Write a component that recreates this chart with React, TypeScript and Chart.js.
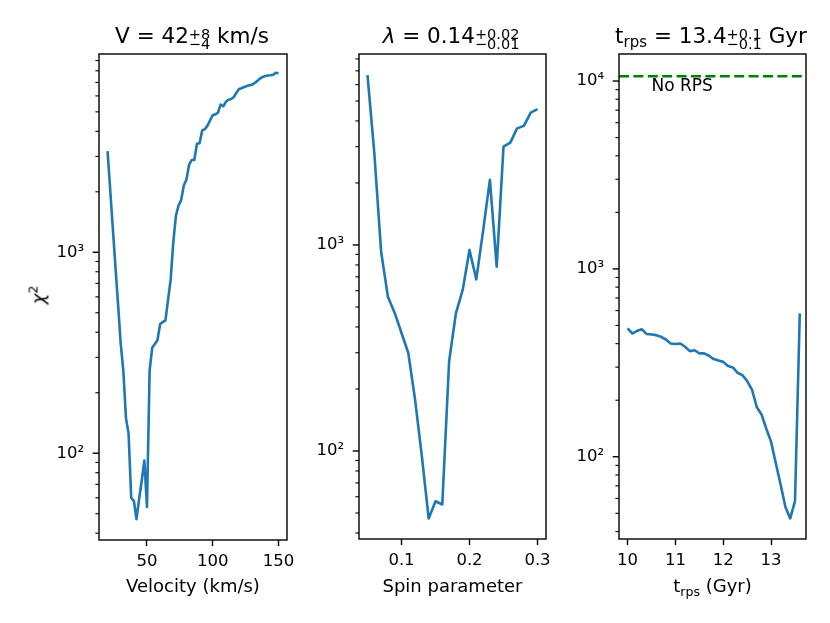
import { useEffect, useRef } from 'react';
import { Chart, registerables } from 'chart.js';

Chart.register(...registerables);

// chi^2 against each fitted parameter
const velocity = [
  20, 22, 24, 26, 28, 30, 32, 34, 36, 38, 40, 42, 44, 46, 48, 50, 52, 54, 56, 58, 60, 62,
  64, 66, 68, 70, 72, 74, 76, 78, 80, 82, 84, 86, 88, 90, 92, 94, 96, 98, 100, 102, 104,
  106, 108, 110, 112, 114, 116, 118, 120, 122, 124, 126, 128, 130, 132, 134, 136, 138,
  140, 142, 144, 146, 148, 150,
];
const velocityChi2 = [
  3190, 2060, 1320, 850, 550, 352, 258, 150, 125, 60, 58, 47, 59, 73, 92, 54, 258, 336,
  350, 366, 440, 450, 457, 578, 731, 1120, 1520, 1710, 1820, 2150, 2300, 2720, 2880, 2880,
  3470, 3490, 4040, 4100, 4270, 4540, 4810, 4860, 4950, 5430, 5330, 5610, 5740, 5790,
  5920, 6220, 6500, 6560, 6650, 6720, 6780, 6830, 6970, 7130, 7320, 7460, 7530, 7580,
  7600, 7640, 7820, 7780,
];

const spin = [
  0.05, 0.06, 0.07, 0.08, 0.09, 0.1, 0.11, 0.12, 0.13, 0.14, 0.15, 0.16, 0.17, 0.18, 0.19,
  0.2, 0.21, 0.22, 0.23, 0.24, 0.25, 0.26, 0.27, 0.28, 0.29, 0.3,
];
const spinChi2 = [
  6680, 2800, 930, 561, 468, 374, 299, 177, 94, 47, 57, 55, 272, 466, 605, 946, 681, 1170,
  2070, 785, 3000, 3140, 3680, 3785, 4390, 4560,
];

const trps = [
  10.0, 10.1, 10.2, 10.3, 10.4, 10.5, 10.6, 10.7, 10.8, 10.9, 11.0, 11.1, 11.2, 11.3, 11.4,
  11.5, 11.6, 11.7, 11.8, 11.9, 12.0, 12.1, 12.2, 12.3, 12.4, 12.5, 12.6, 12.7, 12.8, 12.9,
  13.0, 13.1, 13.2, 13.3, 13.4, 13.5, 13.6,
];
const trpsChi2 = [
  482, 453, 468, 477, 450, 448, 444, 435, 421, 401, 398, 401, 385, 365, 369, 355, 355, 345,
  331, 325, 320, 304, 299, 280, 272, 253, 228, 184, 168, 141, 120, 92, 71, 54, 47, 58, 580,
];
const noRpsChi2 = 10600;

const velocityTicks = [50, 100, 150];
const spinTicks = [0.1, 0.2, 0.3];
const trpsTicks = [10, 11, 12, 13];

const W = 830;
const H = 623;
const FONT = "'DejaVu Sans', sans-serif";
const BLUE = '#1f77b4';

const SUP: Record<string, string> = { '0': '⁰', '1': '¹', '2': '²', '3': '³', '4': '⁴', '5': '⁵' };

function powLabel(v: number) {
  const e = Math.log10(v);
  if (Math.abs(e - Math.round(e)) > 1e-6) return '';
  return '10' + String(Math.round(e)).split('').map(c => SUP[c] ?? c).join('');
}

// box + log ticks (major and minor) like matplotlib
const frameTicks = {
  id: 'frameTicks',
  afterDraw(chart: any) {
    const { ctx, chartArea: a, scales } = chart;
    const ys = scales.y;
    ctx.save();
    ctx.strokeStyle = '#000';
    const lo = Math.floor(Math.log10(ys.min));
    const hi = Math.ceil(Math.log10(ys.max));
    for (let e = lo; e <= hi; e++) {
      for (let d = 1; d < 10; d++) {
        const v = d * Math.pow(10, e);
        if (v < ys.min || v > ys.max) continue;
        const p = ys.getPixelForValue(v);
        const major = d === 1;
        ctx.lineWidth = major ? 1.4 : 1.1;
        ctx.beginPath();
        ctx.moveTo(a.left, p);
        ctx.lineTo(a.left - (major ? 6.3 : 3.6), p);
        ctx.stroke();
      }
    }
    ctx.lineWidth = 1.4;
    ctx.strokeRect(a.left, a.top, a.right - a.left, a.bottom - a.top);
    ctx.restore();
  },
};

const noRpsLabel = {
  id: 'noRpsLabel',
  afterDatasetsDraw(chart: any) {
    const { ctx, scales } = chart;
    ctx.save();
    ctx.fillStyle = '#000';
    ctx.font = `17px ${FONT}`;
    ctx.textBaseline = 'top';
    ctx.fillText('No RPS', scales.x.getPixelForValue(10.5), scales.y.getPixelForValue(noRpsChi2) + 2);
    ctx.restore();
  },
};

interface PanelProps {
  xs: number[];
  ys: number[];
  xMin: number;
  xMax: number;
  yMin: number;
  yMax: number;
  xTicks: number[];
  fmt: (v: number) => string;
  left: number;
  right: number;
  bottom: number;
  noRps?: boolean;
}

function Panel(p: PanelProps) {
  const ref = useRef<HTMLCanvasElement>(null);

  useEffect(() => {
    if (!ref.current) return;
    const yWidth = 60;
    const datasets: any[] = [
      {
        data: p.xs.map((x, i) => ({ x, y: p.ys[i] })),
        borderColor: BLUE,
        borderWidth: 2.6,
        pointRadius: 0,
        tension: 0,
        borderJoinStyle: 'round',
      },
    ];
    if (p.noRps) {
      datasets.push({
        data: [
          { x: p.xMin, y: noRpsChi2 },
          { x: p.xMax, y: noRpsChi2 },
        ],
        borderColor: '#008000',
        borderWidth: 2.6,
        borderDash: [10, 4.4],
        pointRadius: 0,
      });
    }
    const chart = new Chart(ref.current, {
      type: 'line',
      data: { datasets },
      plugins: p.noRps ? [frameTicks, noRpsLabel] : [frameTicks],
      options: {
        animation: false,
        responsive: false,
        events: [],
        layout: { padding: { left: p.left - yWidth, right: W - p.right, top: 54, bottom: 0 } },
        plugins: { legend: { display: false }, tooltip: { enabled: false } },
        scales: {
          x: {
            type: 'linear',
            min: p.xMin,
            max: p.xMax,
            afterBuildTicks: (s: any) => {
              s.ticks = p.xTicks.map(value => ({ value }));
            },
            afterFit: (s: any) => {
              s.height = H - p.bottom;
            },
            grid: { drawOnChartArea: false, drawTicks: true, tickLength: 6, tickWidth: 1.4, tickColor: '#000' },
            border: { display: false },
            ticks: {
              color: '#000',
              font: { family: FONT, size: 16.5 },
              padding: 6,
              maxRotation: 0,
              autoSkip: false,
              callback: (v: any) => p.fmt(Number(v)),
            },
          },
          y: {
            type: 'logarithmic',
            min: p.yMin,
            max: p.yMax,
            afterFit: (s: any) => {
              s.width = yWidth;
            },
            grid: { display: false, drawTicks: true, tickLength: 6 },
            border: { display: false },
            ticks: {
              color: '#000',
              font: { family: FONT, size: 16.5 },
              padding: 9,
              autoSkip: false,
              callback: (v: any) => powLabel(Number(v)),
            },
          },
        },
      },
    });
    return () => chart.destroy();
  }, []);

  return <canvas ref={ref} width={W} height={H} style={{ position: 'absolute', left: 0, top: 0 }} />;
}

const stack: React.CSSProperties = {
  display: 'inline-flex',
  flexDirection: 'column',
  alignItems: 'flex-start',
  fontSize: 14.5,
  lineHeight: '10px',
  verticalAlign: 4,
};

function Title({ cx, children }: { cx: number; children: React.ReactNode }) {
  return (
    <div
      style={{
        position: 'absolute',
        left: cx - 150,
        width: 300,
        top: 24,
        textAlign: 'center',
        fontFamily: FONT,
        fontSize: 21.5,
        lineHeight: '24px',
        whiteSpace: 'nowrap',
      }}
    >
      {children}
    </div>
  );
}

function XLabel({ cx, children }: { cx: number; children: React.ReactNode }) {
  return (
    <div
      style={{
        position: 'absolute',
        left: cx - 120,
        width: 240,
        top: 574.5,
        textAlign: 'center',
        fontFamily: FONT,
        fontSize: 18,
        lineHeight: '22px',
        whiteSpace: 'nowrap',
      }}
    >
      {children}
    </div>
  );
}

export default function App() {
  return (
    <div style={{ position: 'absolute', left: 0, top: 0, width: W, height: H, background: '#fff', overflow: 'hidden' }}>
      <Panel
        xs={velocity}
        ys={velocityChi2}
        xMin={13.5}
        xMax={156.5}
        yMin={37}
        yMax={9700}
        xTicks={velocityTicks}
        fmt={v => String(v)}
        left={99}
        right={287}
        bottom={540}
      />
      <Panel
        xs={spin}
        ys={spinChi2}
        xMin={0.0375}
        xMax={0.3125}
        yMin={37.4}
        yMax={8450}
        xTicks={spinTicks}
        fmt={v => v.toFixed(1)}
        left={359}
        right={546}
        bottom={539}
      />
      <Panel
        xs={trps}
        ys={trpsChi2}
        xMin={9.82}
        xMax={13.73}
        yMin={36.5}
        yMax={13930}
        xTicks={trpsTicks}
        fmt={v => String(v)}
        left={619}
        right={806}
        bottom={539}
        noRps
      />

      <Title cx={192}>
        V = 42
        <span style={stack}>
          <span>+8</span>
          <span>−4</span>
        </span>{' '}
        km/s
      </Title>
      <Title cx={451}>
        <i>λ</i> = 0.14
        <span style={stack}>
          <span>+0.02</span>
          <span>−0.01</span>
        </span>
      </Title>
      <Title cx={711}>
        t<span style={{ fontSize: 15, verticalAlign: -4 }}>rps</span> = 13.4
        <span style={stack}>
          <span>+0.1</span>
          <span>−0.1</span>
        </span>{' '}
        Gyr
      </Title>

      <XLabel cx={193}>Velocity (km/s)</XLabel>
      <XLabel cx={452.5}>Spin parameter</XLabel>
      <XLabel cx={712.5}>
        t<span style={{ fontSize: 12.6, verticalAlign: -3.5 }}>rps</span> (Gyr)
      </XLabel>

      <div
        style={{
          position: 'absolute',
          left: 36,
          top: 295,
          transform: 'translate(-50%, -50%) rotate(-90deg)',
          fontFamily: FONT,
          fontSize: 18,
          lineHeight: '22px',
          whiteSpace: 'nowrap',
        }}
      >
        <i>χ</i>
        <span style={{ fontSize: 12.6, verticalAlign: 7 }}>2</span>
      </div>
    </div>
  );
}
